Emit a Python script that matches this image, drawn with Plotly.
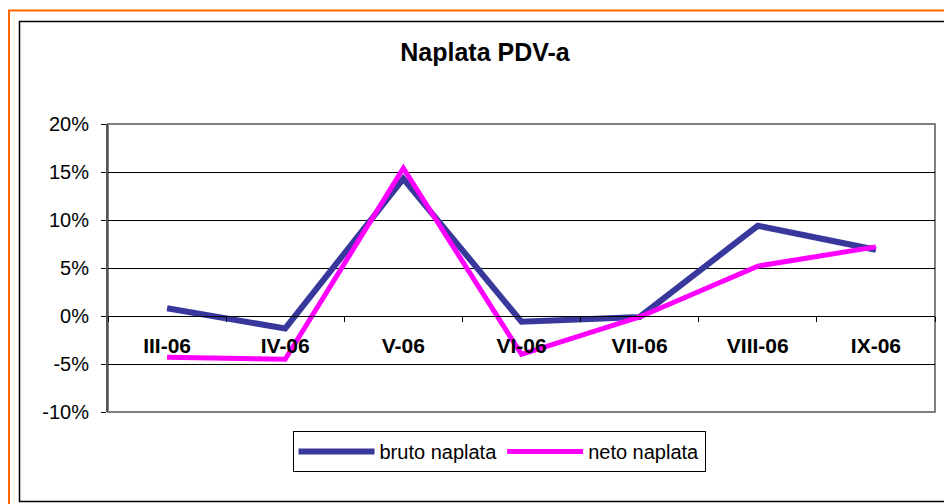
import plotly.graph_objects as go

categories = ["III-06", "IV-06", "V-06", "VI-06", "VII-06", "VIII-06", "IX-06"]
bruto = [0.8, -1.3, 14.3, -0.6, -0.1, 9.4, 6.9]
neto = [-4.3, -4.5, 15.4, -4.0, -0.1, 5.2, 7.2]
y_ticks = [-10, -5, 0, 5, 10, 15, 20]
y_tick_labels = [f"{v}%" for v in y_ticks]

# page has an 8px body margin; figure origin sits at page (8, 8)
OFF = 8
W, H = 952, 504
PL, PR, PT, PB = 108, 935, 124, 412   # plot area in page pixels
L = PL - OFF
T = PT - OFF
R = W - (PR - OFF)
B = H - (PB - OFF)
pw, ph = PR - PL, PB - PT

def px(x):
    return (x - PL) / pw

def py(y):
    return (PB - y) / ph

FONT = "Liberation Sans, Arial, sans-serif"

fig = go.Figure()
fig.add_trace(go.Scatter(x=categories, y=bruto, mode="lines", name="bruto naplata",
                         line=dict(color="#38389C", width=6)))
fig.add_trace(go.Scatter(x=categories, y=neto, mode="lines", name="neto naplata",
                         line=dict(color="#FF00FF", width=5)))

ymin, ymax = y_ticks[0], y_ticks[-1]
zero_pos = (0 - ymin) / (ymax - ymin)

fig.update_layout(
    width=W, height=H,
    margin=dict(l=L, r=R, t=T, b=B),
    paper_bgcolor="white", plot_bgcolor="white",
    font=dict(family=FONT, size=20, color="black"),
    title=dict(text="<b>Naplata PDV-a</b>", x=px(485), xref="paper", xanchor="center",
               y=1 - (52 - OFF) / H, yanchor="middle", font=dict(size=25)),
    showlegend=True,
    legend=dict(orientation="h", x=px(499), xanchor="center", y=py(431), yanchor="top",
                bordercolor="black", borderwidth=1, bgcolor="white",
                font=dict(size=20), itemwidth=76, tracegroupgap=0),
    xaxis=dict(type="category", categoryorder="array", categoryarray=categories,
               range=[-0.5, len(categories) - 0.5],
               anchor="free", position=zero_pos,
               showline=True, linecolor="black", linewidth=1,
               ticks="outside", tickson="boundaries", ticklen=5, tickcolor="black",
               showgrid=False, zeroline=False,
               tickfont=dict(size=21, family=FONT, weight="bold"),
               ticklabelstandoff=11),
    yaxis=dict(range=[ymin, ymax], tickvals=y_ticks, ticktext=y_tick_labels,
               showgrid=True, gridcolor="black", gridwidth=1,
               zeroline=False, ticks="outside", ticklen=5, tickcolor="black",
               showline=True, linecolor="#555555", linewidth=2, mirror=False,
               tickfont=dict(size=20), ticklabelstandoff=8),
)

# plot-area border (gray)
fig.add_shape(type="rect", xref="paper", yref="paper", x0=0, y0=0, x1=1, y1=1,
              line=dict(color="#808080", width=2), layer="below")
# outer frames
fig.add_shape(type="rect", xref="paper", yref="paper", x0=px(9), y0=py(10.5), x1=px(990), y1=py(540),
              line=dict(color="#FF6600", width=2))
fig.add_shape(type="rect", xref="paper", yref="paper", x0=px(19.5), y0=py(21.5), x1=px(990), y1=py(501.5),
              line=dict(color="black", width=1.5))

fig.write_html("out.html")
